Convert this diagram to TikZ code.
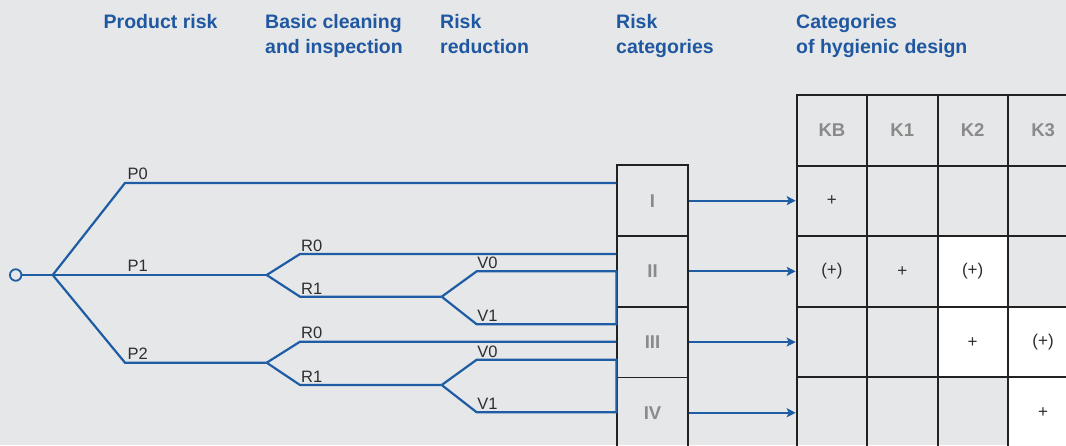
\documentclass[tikz,border=0pt]{standalone}
\usepackage{fontspec}
\setmainfont{Liberation Sans}
\usetikzlibrary{arrows.meta}
\definecolor{bg}{HTML}{E6E7E9}
\definecolor{lblue}{HTML}{1E5CA4}
\definecolor{hblue}{HTML}{1F57A0}
\definecolor{dgray}{HTML}{222222}
\definecolor{tgray}{HTML}{2E2E2E}
\definecolor{mgray}{HTML}{8A8A8A}
\begin{document}
\begin{tikzpicture}[x=1pt,y=-1pt,
  blueline/.style={draw=lblue, line width=2.2pt},
  arr/.style={draw=lblue, line width=2.2pt, -{Stealth[length=9pt,width=9pt,inset=2pt]}},
  lbl/.style={anchor=base west, inner sep=0, text=tgray, font=\fontsize{16.5}{18}\selectfont},
  hdr/.style={anchor=base west, inner sep=0, text=hblue, font=\bfseries\fontsize{19.5}{25}\selectfont},
  rcbox/.style={draw=dgray, line width=1.8pt, minimum width=70.4pt, minimum height=70.7pt, inner sep=0, text=mgray, font=\bfseries\fontsize{18.5}{20}\selectfont},
  cell/.style={draw=dgray, line width=2pt, minimum width=70.4pt, minimum height=70.6pt, inner sep=0, text=tgray, font=\fontsize{17}{19}\selectfont},
  hcell/.style={cell, text=mgray, font=\bfseries\fontsize{18.5}{20}\selectfont},
  wcell/.style={cell, fill=white}
]
\useasboundingbox (0,0) rectangle (1066,445);
\fill[bg] (0,0) rectangle (1066,445);
\begin{scope}
\clip (0,0) rectangle (1066,445);

% headers
\node[hdr] (h1) at (103.5,28.3) {Product risk};
\node[hdr] (h2) at (265,28.3) {\begin{tabular}[t]{@{}l@{}}Basic cleaning\\and inspection\end{tabular}};
\node[hdr] (h3) at (440,28.3) {\begin{tabular}[t]{@{}l@{}}Risk\\reduction\end{tabular}};
\node[hdr] (h4) at (616,28.3) {\begin{tabular}[t]{@{}l@{}}Risk\\categories\end{tabular}};
\node[hdr] (h5) at (796,28.3) {\begin{tabular}[t]{@{}l@{}}Categories\\of hygienic design\end{tabular}};

% risk category boxes
\node[rcbox] (rc1) at (652.5,200.65) {I};
\node[rcbox] (rc2) at (652.5,271.35) {II};
\node[rcbox] (rc3) at (652.5,342.05) {III};
\node[rcbox] (rc4) at (652.5,412.75) {IV};

% table
\node[hcell] (hKB) at (831.9,130.35) {KB};
\node[hcell] (hK1) at (902.3,130.35) {K1};
\node[hcell] (hK2) at (972.7,130.35) {K2};
\node[hcell] (hK3) at (1043.1,130.35) {K3};

\node[cell]  (c11) at (831.9,200.95) {+};
\node[cell]  (c12) at (902.3,200.95) {};
\node[cell]  (c13) at (972.7,200.95) {};
\node[cell]  (c14) at (1043.1,200.95) {};

\node[cell]  (c21) at (831.9,271.55) {(+)};
\node[cell]  (c22) at (902.3,271.55) {+};
\node[wcell] (c23) at (972.7,271.55) {(+)};
\node[cell]  (c24) at (1043.1,271.55) {};

\node[cell]  (c31) at (831.9,342.15) {};
\node[cell]  (c32) at (902.3,342.15) {};
\node[wcell] (c33) at (972.7,342.15) {+};
\node[wcell] (c34) at (1043.1,342.15) {(+)};

\node[cell]  (c41) at (831.9,412.75) {};
\node[cell]  (c42) at (902.3,412.75) {};
\node[cell]  (c43) at (972.7,412.75) {};
\node[wcell] (c44) at (1043.1,412.75) {+};

% arrows
\draw[arr] (rc1.east) -- (rc1.east -| c11.west);
\draw[arr] (rc2.east) -- (rc2.east -| c21.west);
\draw[arr] (rc3.east) -- (rc3.east -| c31.west);
\draw[arr] (rc4.east) -- (rc4.east -| c41.west);

% tree
\node[circle, draw=lblue, line width=1.8pt, fill=bg, minimum size=11.5pt, inner sep=0] (o) at (15.7,275) {};
\coordinate (b0) at (52.7,275);
\coordinate (p0) at (125,183);
\coordinate (p1) at (266.7,275);
\coordinate (p2c) at (125,362.7);
\coordinate (p2) at (266.7,362.7);
\coordinate (r10) at (300,254);
\coordinate (r11) at (300,296.7);
\coordinate (q1) at (441.7,296.7);
\coordinate (v10) at (476.7,271.3);
\coordinate (v11) at (476.7,324.3);
\coordinate (r20) at (300,341.7);
\coordinate (r21) at (300,385);
\coordinate (q2) at (441.7,385);
\coordinate (v20) at (476.7,359.7);
\coordinate (v21) at (476.7,412.3);

\draw[blueline] (o.east) -- (b0);
\draw[blueline] (b0) -- (p0) -- (p0 -| rc1.west);
\draw[blueline] (b0) -- (p1);
\draw[blueline] (b0) -- (p2c) -- (p2);
\draw[blueline] (p1) -- (r10) -- (r10 -| rc2.west);
\draw[blueline] (p1) -- (r11) -- (q1);
\draw[blueline] (q1) -- (v10) -- (v10 -| rc2.west) -- (v11 -| rc2.west) -- (v11) -- (q1);
\draw[blueline] (p2) -- (r20) -- (r20 -| rc3.west);
\draw[blueline] (p2) -- (r21) -- (q2);
\draw[blueline] (q2) -- (v20) -- (v20 -| rc3.west) -- (v21 -| rc3.west) -- (v21) -- (q2);

% labels
\node[lbl] (lP0) at ([shift={(2.5,-3.5)}]p0) {P0};
\node[lbl] (lP1) at (127.5,271) {P1};
\node[lbl] (lP2) at ([shift={(2.5,-3.5)}]p2c) {P2};
\node[lbl] (lR10) at ([shift={(1,-3)}]r10) {R0};
\node[lbl] (lR11) at ([shift={(1,-2)}]r11) {R1};
\node[lbl] (lR20) at ([shift={(1,-3)}]r20) {R0};
\node[lbl] (lR21) at ([shift={(1,-2.5)}]r21) {R1};
\node[lbl] (lV10) at ([shift={(0.5,-2.5)}]v10) {V0};
\node[lbl] (lV11) at ([shift={(0.5,-2.5)}]v11) {V1};
\node[lbl] (lV20) at ([shift={(0.5,-2.5)}]v20) {V0};
\node[lbl] (lV21) at ([shift={(0.5,-2.5)}]v21) {V1};
\end{scope}
\end{tikzpicture}
\end{document}
